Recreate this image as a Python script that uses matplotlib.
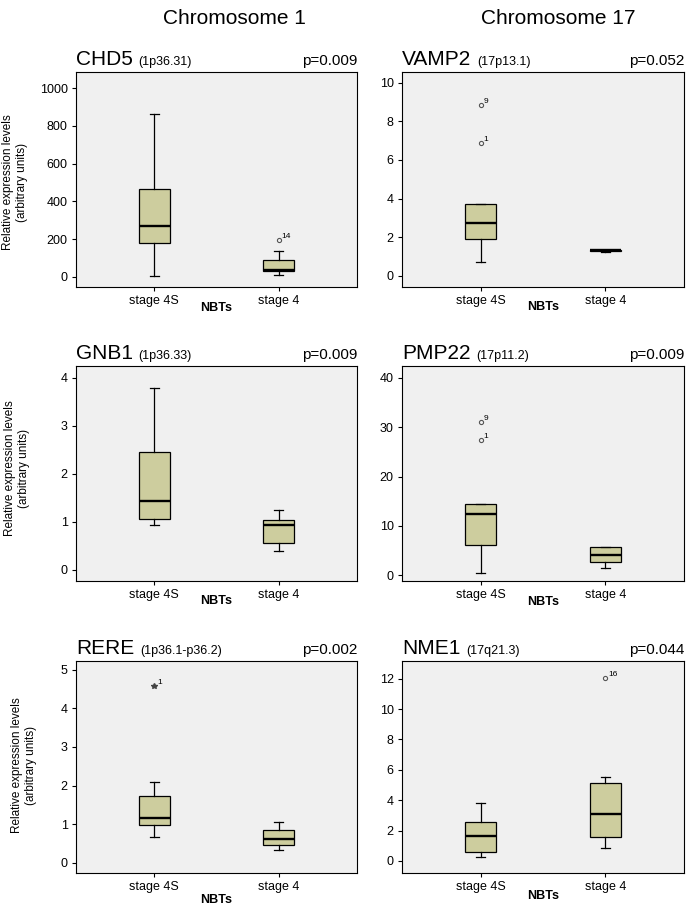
import matplotlib
matplotlib.use('Agg')
import matplotlib.pyplot as plt

plt.rcParams['font.family'] = ['Liberation Sans', 'DejaVu Sans']

# data
genes = ['CHD5', 'VAMP2', 'GNB1', 'PMP22', 'RERE', 'NME1']
loci = ['(1p36.31)', '(17p13.1)', '(1p36.33)', '(17p11.2)', '(1p36.1-p36.2)', '(17q21.3)']
pvals = ['p=0.009', 'p=0.052', 'p=0.009', 'p=0.009', 'p=0.002', 'p=0.044']
groups = ['stage 4S', 'stage 4']

# [stage 4S, stage 4] per gene
whislo = [[7, 12], [0.72, 1.25], [0.94, 0.40], [0.4, 1.42], [0.68, 0.34], [0.29, 0.88]]
q1 = [[179, 30], [1.90, 1.28], [1.05, 0.55], [6.07, 2.63], [0.99, 0.47], [0.61, 1.60]]
med = [[269, 35], [2.76, 1.32], [1.44, 0.94], [12.5, 4.05], [1.16, 0.62], [1.62, 3.09]]
q3 = [[464, 92], [3.71, 1.35], [2.46, 1.03], [14.4, 5.67], [1.72, 0.84], [2.59, 5.16]]
whishi = [[862, 140], [3.71, 1.35], [3.78, 1.24], [14.4, 5.67], [2.09, 1.06], [3.84, 5.51]]

# outliers: (gene index, group index, value, case label, marker)
out_gene = [0, 1, 1, 3, 3, 4, 5]
out_group = [1, 0, 0, 0, 0, 0, 1]
out_val = [198, 8.86, 6.88, 31.1, 27.5, 4.57, 12.07]
out_lab = ['14', '9', '1', '9', '1', '1', '16']
out_mark = ['o', 'o', 'o', 'o', 'o', '*', 'o']

yticks = [range(0, 1001, 200), range(0, 11, 2), range(0, 5), range(0, 41, 10), range(0, 6), range(0, 13, 2)]
ylims = [(-53, 1085), (-0.57, 10.55), (-0.23, 4.24), (-1.15, 42.4), (-0.26, 5.22), (-0.79, 13.16)]

W, H = 695, 908
# axes rectangles in pixels (x0, y0, x1, y1)
rects = [(76, 72, 357, 287), (402, 72, 684, 287),
         (76, 366, 357, 581), (402, 366, 684, 581),
         (76, 661, 357, 873), (402, 661, 684, 873)]
nbt_off = [21, 20, 20, 21, 27, 23]
ylab_pos = [(15, 182), None, (17, 468), None, (24, 765), None]

fig = plt.figure(figsize=(W / 100, H / 100), dpi=100)
fig.patch.set_facecolor('white')

fig.text(234 / W, 1 - 18 / H, 'Chromosome 1', ha='center', va='center', fontsize=15)
fig.text(558 / W, 1 - 18 / H, 'Chromosome 17', ha='center', va='center', fontsize=15)

for i, g in enumerate(genes):
    x0, y0, x1, y1 = rects[i]
    ax = fig.add_axes([x0 / W, 1 - y1 / H, (x1 - x0) / W, (y1 - y0) / H])
    ax.set_facecolor('#f0f0f0')
    stats = []
    for j in range(2):
        stats.append(dict(med=med[i][j], q1=q1[i][j], q3=q3[i][j],
                          whislo=whislo[i][j], whishi=whishi[i][j],
                          fliers=[], label=groups[j]))
    ax.bxp(stats, positions=[1, 2], widths=0.25, capwidths=0.07,
           patch_artist=True, showfliers=False,
           boxprops=dict(facecolor='#cdcd9e', edgecolor='black', linewidth=0.9),
           medianprops=dict(color='black', linewidth=1.7),
           whiskerprops=dict(color='black', linewidth=0.9),
           capprops=dict(color='black', linewidth=0.9))
    for k in range(len(out_val)):
        if out_gene[k] != i:
            continue
        xp = out_group[k] + 1
        if out_mark[k] == '*':
            ax.plot(xp, out_val[k], marker='*', ms=4, color='#444444', ls='none')
        else:
            ax.plot(xp, out_val[k], marker='o', ms=3, mfc='none', mec='#555555',
                    mew=0.8, ls='none')
        ax.annotate(out_lab[k], xy=(xp, out_val[k]), xytext=(2, 0),
                    textcoords='offset points', fontsize=6, ha='left', va='bottom')

    ax.set_xlim(0.37, 2.63)
    ax.set_ylim(*ylims[i])
    ax.set_yticks(list(yticks[i]))
    ax.set_xticks([1, 2])
    ax.set_xticklabels(groups)
    ax.tick_params(axis='both', direction='out', length=3, width=0.8, pad=3,
                   labelsize=9, color='black')
    for s in ax.spines.values():
        s.set_linewidth(0.8)
        s.set_color('black')

    gt = ax.annotate(g, xy=(0, 1), xycoords='axes fraction', xytext=(0, 5),
                     textcoords='offset points', ha='left', va='baseline', fontsize=15)
    ax.annotate(loci[i], xy=(1, 1), xycoords=(gt, 'axes fraction'), xytext=(4, 5),
                textcoords='offset points', ha='left', va='baseline', fontsize=9)
    ax.annotate(pvals[i], xy=(1, 1), xycoords='axes fraction', xytext=(0, 5),
                textcoords='offset points', ha='right', va='baseline', fontsize=11)
    ax.annotate('NBTs', xy=(0.5, 0), xycoords='axes fraction',
                xytext=(0, -nbt_off[i] * 0.72), textcoords='offset points',
                ha='center', va='center', fontsize=9, fontweight='bold')
    if ylab_pos[i] is not None:
        lx, ly = ylab_pos[i]
        fig.text(lx / W, 1 - ly / H, 'Relative expression levels\n(arbitrary units)',
                 rotation=90, ha='center', va='center', fontsize=8.5,
                 multialignment='center')

fig.savefig('out.png', dpi=100)
